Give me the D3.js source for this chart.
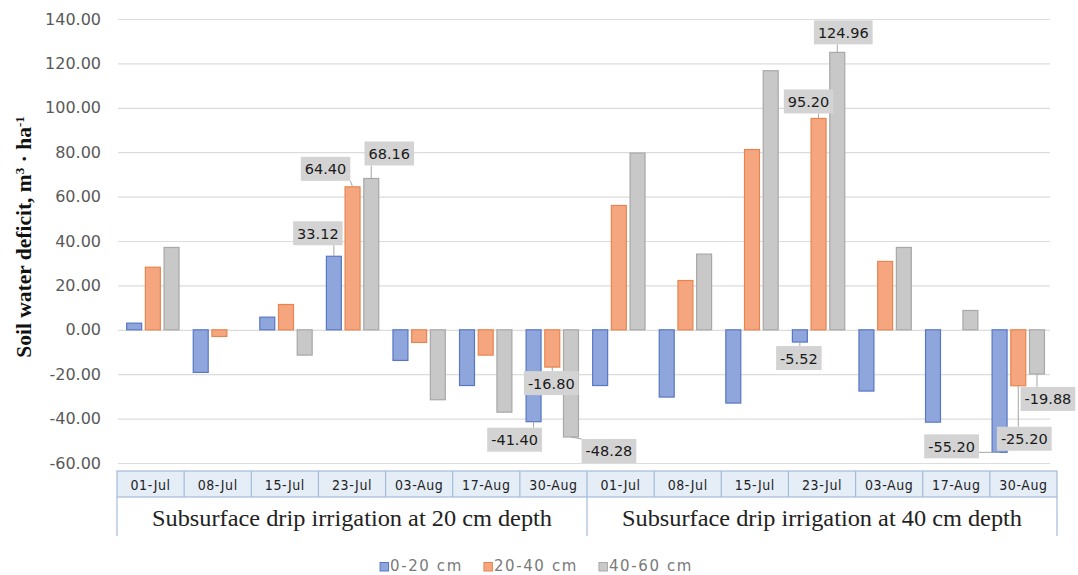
<!DOCTYPE html>
<html>
<head>
<meta charset="utf-8">
<script src="https://cdn.jsdelivr.net/npm/d3@7"></script>
<style>
  html, body { margin: 0; padding: 0; background: #fff; }
  svg { display: block; }
</style>
</head>
<body>
<svg id="chart" width="1078" height="575"></svg>
<script>
// ---------------- DATA ----------------
const categories = ["01-Jul", "08-Jul", "15-Jul", "23-Jul", "03-Aug", "17-Aug", "30-Aug"];
const groups = ["Subsurface drip irrigation at 20 cm depth", "Subsurface drip irrigation at 40 cm depth"];
const seriesNames = ["0-20 cm", "20-40 cm", "40-60 cm"];
// values: first 7 = 20 cm depth group, last 7 = 40 cm depth group
const series0_20 = [3.0, -19.2, 5.7, 33.12, -13.8, -25.1, -41.40, -25.1, -30.3, -33.0, -5.52, -27.6, -41.6, -55.20];
const series20_40 = [28.2, -3.0, 11.4, 64.40, -5.7, -11.4, -16.80, 56.0, 22.2, 81.2, 95.20, 30.8, 0, -25.20];
const series40_60 = [37.1, 0, -11.4, 68.16, -31.5, -37.1, -48.28, 79.6, 34.1, 116.7, 124.96, 37.1, 8.7, -19.88];
const yTicks = [-60, -40, -20, 0, 20, 40, 60, 80, 100, 120, 140];
// which bars carry a data label: [seriesIndex, categoryIndex]
const labelled = [[0,3],[1,3],[2,3],[0,6],[1,6],[2,6],[0,10],[1,10],[2,10],[0,13],[1,13],[2,13]];

// ---------------- LAYOUT / STYLE ----------------
const labelOffsets = { // box-centre offset from bar end (px)
  "0,3": [-16, -23], "1,3": [-27, -18], "2,3": [18, -25],
  "0,6": [-19, 18], "1,6": [-1, 16], "2,6": [38, 14],
  "0,10": [-1, 16], "1,10": [-10, -17], "2,10": [6, -20],
  "0,13": [-48, -6], "1,13": [6, 53], "2,13": [11, 25]
};
const fills = ["#8fa6dc", "#f5a67f", "#c8c8c8"];
const strokes = ["#5877c4", "#e8854f", "#a8a8a8"];

const locale = d3.formatLocale({ decimal: ".", thousands: ",", grouping: [3], currency: ["", ""], minus: "-" });
const fmt = locale.format(".2f");

const allSeries = [series0_20, series20_40, series40_60];
const keys = d3.range(groups.length * categories.length).map(String);
const rows = keys.map((k, i) => ({ key: k, vals: allSeries.map(s => s[i]) }));

const svg = d3.select("#chart");
const plot = { left: 118, right: 1050, top: 19, bottom: 463 };

const y = d3.scaleLinear().domain([-60, 140]).range([plot.bottom, plot.top]);
const x0 = d3.scaleBand().domain(keys).range([plot.left, plot.right]).padding(0);
const x1 = d3.scaleBand().domain(d3.range(seriesNames.length))
  .range([0, x0.bandwidth()]).paddingInner(0.2).paddingOuter(0.38).align(0.61);

// gridlines
const grid = svg.append("g").attr("transform", `translate(${plot.left},0)`)
  .call(d3.axisLeft(y).tickValues(yTicks).tickSize(-(plot.right - plot.left)).tickFormat(""));
grid.select(".domain").remove();
grid.selectAll("line").attr("stroke", "#dcdcdc").attr("stroke-width", 1.2);

// y tick labels
const yAx = svg.append("g").attr("transform", `translate(${plot.left},0)`)
  .call(d3.axisLeft(y).tickValues(yTicks).tickSize(0).tickPadding(17).tickFormat(fmt));
yAx.select(".domain").remove();
yAx.selectAll("text").attr("font-family", "DejaVu Sans, Verdana, sans-serif")
  .attr("font-size", 16).attr("fill", "#595959");

// y title
const title = svg.append("text")
  .attr("transform", `translate(31,${(plot.top + plot.bottom) / 2 - 4}) rotate(-90)`)
  .attr("text-anchor", "middle")
  .attr("font-family", "Liberation Serif, Times New Roman, serif")
  .attr("font-weight", "bold").attr("font-size", 21.5).attr("fill", "#111");
title.append("tspan").text("Soil water deficit,  m");
title.append("tspan").attr("baseline-shift", "super").attr("font-size", 13).text("3");
title.append("tspan").text(" · ha");
title.append("tspan").attr("baseline-shift", "super").attr("font-size", 13).text("-1");

// bars
const catG = svg.append("g").selectAll("g").data(rows).join("g")
  .attr("transform", d => `translate(${x0(d.key)},0)`);
catG.selectAll("rect").data(d => d.vals.map((v, j) => ({ v, j }))).join("rect")
  .filter(d => d.v !== 0)
  .attr("x", d => x1(d.j))
  .attr("width", x1.bandwidth())
  .attr("y", d => y(Math.max(0, d.v)))
  .attr("height", d => Math.abs(y(d.v) - y(0)))
  .attr("fill", d => fills[d.j])
  .attr("stroke", d => strokes[d.j])
  .attr("stroke-width", 1.2);

// data labels
const labG = svg.append("g");
labelled.forEach(([j, i]) => {
  const v = allSeries[j][i];
  const bx = x0(keys[i]) + x1(j) + x1.bandwidth() / 2;
  const by = y(v);
  const off = labelOffsets[j + "," + i];
  const cx = bx + off[0], cy = by + off[1];
  const t = labG.append("text").attr("x", cx).attr("y", cy + 5.5)
    .attr("text-anchor", "middle")
    .attr("font-family", "DejaVu Sans, Verdana, sans-serif")
    .attr("font-size", 14.5).attr("fill", "#1a1a1a")
    .text(fmt(v));
  const w = t.node().getComputedTextLength() + 8, h = 24;
  const bxL = cx - w / 2, byT = cy - h / 2;
  // leader line from bar end to nearest box edge
  const px = Math.max(bxL, Math.min(bxL + w, bx));
  const py = Math.max(byT, Math.min(byT + h, by));
  labG.insert("line", "text").attr("x1", bx).attr("y1", by).attr("x2", px).attr("y2", py)
    .attr("stroke", "#a6a6a6").attr("stroke-width", 1);
  labG.insert("rect", "text").attr("x", bxL).attr("y", byT).attr("width", w).attr("height", h)
    .attr("fill", "#d3d3d3");
});

// category table
const table = { left: 117, right: 1057, top: 471, mid: 497, bottom: 536 };
const xt = d3.scaleBand().domain(keys).range([table.left, table.right]);
const tg = svg.append("g");
tg.append("rect").attr("x", table.left).attr("y", table.top)
  .attr("width", table.right - table.left).attr("height", table.mid - table.top)
  .attr("fill", "#e5edf7").attr("stroke", "#a3bbd9").attr("stroke-width", 1.2);
tg.selectAll("line.sep").data(keys.slice(1)).join("line")
  .attr("x1", d => xt(d)).attr("x2", d => xt(d))
  .attr("y1", table.top).attr("y2", table.mid)
  .attr("stroke", "#a3bbd9").attr("stroke-width", 1.2);
tg.selectAll("text.cat").data(keys).join("text")
  .attr("x", d => xt(d) + xt.bandwidth() / 2).attr("y", 490)
  .attr("text-anchor", "middle")
  .attr("font-family", "DejaVu Sans Condensed, DejaVu Sans, sans-serif")
  .attr("font-size", 14).attr("letter-spacing", 0.6).attr("fill", "#222")
  .text(d => categories[+d % categories.length]);
const gx = d3.scaleBand().domain(groups).range([table.left, table.right]);
tg.selectAll("line.gsep").data([table.left, gx(groups[1]), table.right]).join("line")
  .attr("x1", d => d).attr("x2", d => d)
  .attr("y1", table.mid).attr("y2", table.bottom)
  .attr("stroke", "#a3bbd9").attr("stroke-width", 1.2);
tg.selectAll("text.grp").data(groups).join("text")
  .attr("x", d => gx(d) + gx.bandwidth() / 2).attr("y", 526)
  .attr("text-anchor", "middle")
  .attr("font-family", "Liberation Serif, Times New Roman, serif")
  .attr("font-size", 23).attr("fill", "#222")
  .attr("textLength", 400).attr("lengthAdjust", "spacingAndGlyphs")
  .text(d => d);

// legend
const leg = svg.append("g");
let lx = 0;
seriesNames.forEach((name, j) => {
  const g = leg.append("g");
  g.append("rect").attr("x", 0).attr("y", -8.5).attr("width", 8.5).attr("height", 8.5)
    .attr("fill", fills[j]).attr("stroke", strokes[j]).attr("stroke-width", 1);
  const t = g.append("text").attr("x", 10).attr("y", 0)
    .attr("font-family", "DejaVu Sans, Verdana, sans-serif")
    .attr("font-size", 15).attr("letter-spacing", 1.6).attr("fill", "#7a7a7a").text(name);
  const w = 10 + t.node().getComputedTextLength();
  g.attr("transform", `translate(${lx},571)`);
  lx += w + 21;
});
const total = lx - 21;
leg.attr("transform", `translate(${536.5 - total / 2},0)`);
</script>
</body>
</html>
